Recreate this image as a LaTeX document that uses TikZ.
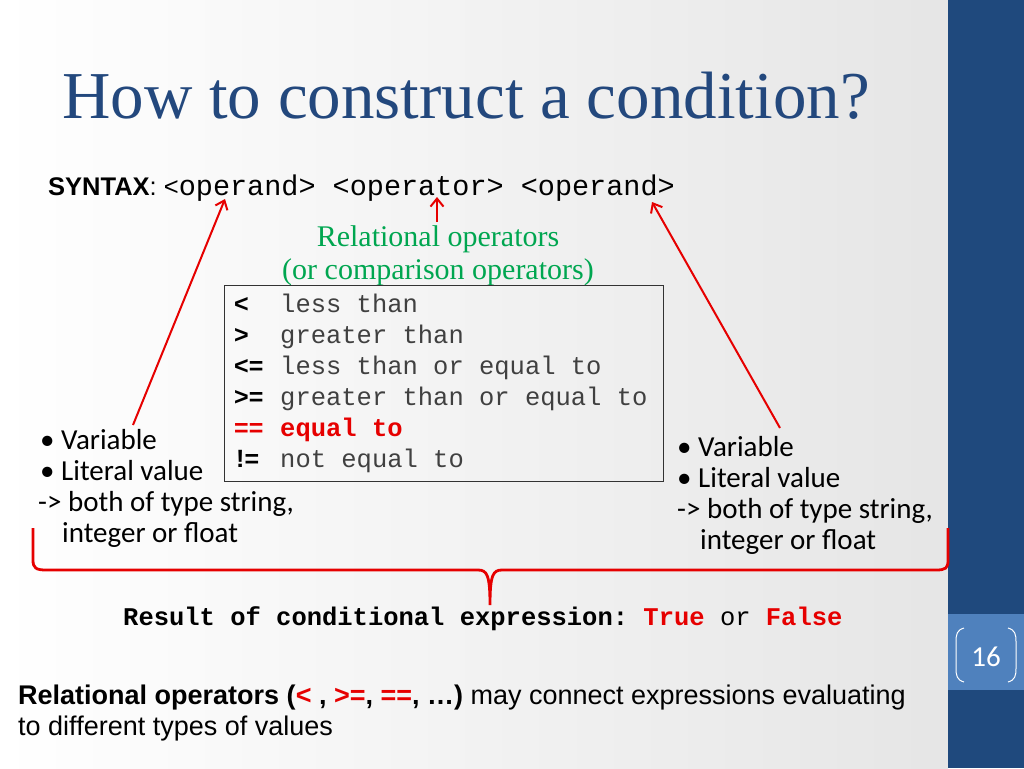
\documentclass[tikz,border=0pt]{standalone}
\usepackage{fontspec}
\setmainfont{Liberation Serif}
\setsansfont{Liberation Sans}
\setmonofont{Liberation Mono}
\newfontfamily\bodyfont{Carlito}
\usetikzlibrary{arrows.meta}
\definecolor{titleblue}{RGB}{35,72,125}
\definecolor{barblue}{RGB}{31,73,125}
\definecolor{boxblue}{RGB}{79,129,189}
\definecolor{grn}{RGB}{0,166,80}
\definecolor{rd}{RGB}{230,0,0}
\tikzset{
  txt/.style={anchor=base west,inner sep=0pt},
  ctxt/.style={anchor=base,inner sep=0pt},
  redarrow/.style={draw=rd,line width=2pt,-{Straight Barb[length=8pt,width=13pt]}},
  op/.style={txt,font=\sffamily\bfseries\fontsize{25}{25}\selectfont},
  optxt/.style={txt,font=\ttfamily\fontsize{25.5}{25}\selectfont,text=black!75},
  body/.style={txt,font=\bodyfont\fontsize{29}{29}\selectfont},
}
\begin{document}
\begin{tikzpicture}[x=1pt,y=-1pt]
\useasboundingbox (0,0) rectangle (1024,768);
\shade[left color=white,right color=black!10] (0,0) rectangle (948,768);
\fill[barblue] (948,0) rectangle (1024,768);
\fill[boxblue] (948,614) rectangle (1024,690);
\draw[white,line width=1pt] (964,628) .. controls (957,630) and (956,634) .. (956,642) -- (956,668) .. controls (956,676) and (957,680) .. (964,682);
\draw[white,line width=1pt] (1008,628) .. controls (1015,630) and (1016,634) .. (1016,642) -- (1016,668) .. controls (1016,676) and (1015,680) .. (1008,682);
\node[ctxt,text=white,font=\bodyfont\fontsize{29}{29}\selectfont] (pg) at (986,666) {16};

\node[txt,text=titleblue,font=\fontsize{67}{67}\selectfont] (title) at (62,118) {How to construct a condition?};

\node[txt,font=\sffamily\fontsize{25.5}{25}\selectfont] (syn) at (48,195) {\textbf{SYNTAX}: <\ttfamily\fontsize{28.5}{28}\selectfont operand> <operator> <operand>};
\coordinate (opnd1) at (225,199);
\coordinate (oper) at (437,197);
\coordinate (opnd2) at (652,202);

\node[ctxt,text=grn,font=\fontsize{30}{30}\selectfont] (rel1) at (438,246) {Relational operators};
\node[ctxt,text=grn,font=\fontsize{30}{30}\selectfont] (rel2) at (438,279) {(or comparison operators)};

\draw[black!80,line width=0.8pt] (224,285) rectangle (663,481);
\node (box) at (443,383) {};
\node[op] (o1) at (234,312) {<};
\node[optxt] (t1) at (280,312) {less than};
\node[op] (o2) at (234,343) {>};
\node[optxt] (t2) at (280,343) {greater than};
\node[op] (o3) at (234,374) {<=};
\node[optxt] (t3) at (280,374) {less than or equal to};
\node[op] (o4) at (234,405) {>=};
\node[optxt] (t4) at (280,405) {greater than or equal to};
\node[op,text=rd] (o5) at (234,436) {==};
\node[optxt,text=rd,font=\ttfamily\bfseries\fontsize{25.5}{25}\selectfont] (t5) at (280,436) {equal to};
\node[op] (o6) at (236,467) {!=};
\node[optxt] (t6) at (280,467) {not equal to};

\node[body] (l1) at (40,449) {• Variable};
\node[body] (l2) at (40,480) {• Literal value};
\node[body] (l3) at (38,511) {-> both of type string,};
\node[body] (l4) at (62,542) {integer or float};
\node[body] (r1) at (677,456) {• Variable};
\node[body] (r2) at (677,487) {• Literal value};
\node[body] (r3) at (677,518) {-> both of type string,};
\node[body] (r4) at (700,549) {integer or float};

\coordinate (la) at (133,425);
\coordinate (ma) at (437,222);
\coordinate (ra) at (780,428);
\draw[redarrow] (la) -- (opnd1);
\draw[redarrow] (ma) -- (oper);
\draw[redarrow] (ra) -- (opnd2);

\draw[rd,line width=2.8pt] (33,528) -- (33,560) .. controls (33,568) and (36,570) .. (46,570) -- (478,570) .. controls (487,570) and (490,575) .. (490,605) .. controls (490,575) and (493,570) .. (502,570) -- (936,570) .. controls (946,570) and (948,568) .. (948,560) -- (948,528);

\node[txt,font=\ttfamily\bfseries\fontsize{25.5}{25}\selectfont] (res) at (123,625) {Result of conditional expression: \textcolor{rd}{True} \mdseries or \bfseries\textcolor{rd}{False}};

\node[txt,font=\sffamily\fontsize{27}{27}\selectfont] (n1) at (18,704) {\textbf{Relational operators (\textcolor{rd}{<} , \textcolor{rd}{>=}, \textcolor{rd}{==}, …)} may connect expressions evaluating};
\node[txt,font=\sffamily\fontsize{27}{27}\selectfont] (n2) at (18,735) {to different types of values};
\end{tikzpicture}
\end{document}
